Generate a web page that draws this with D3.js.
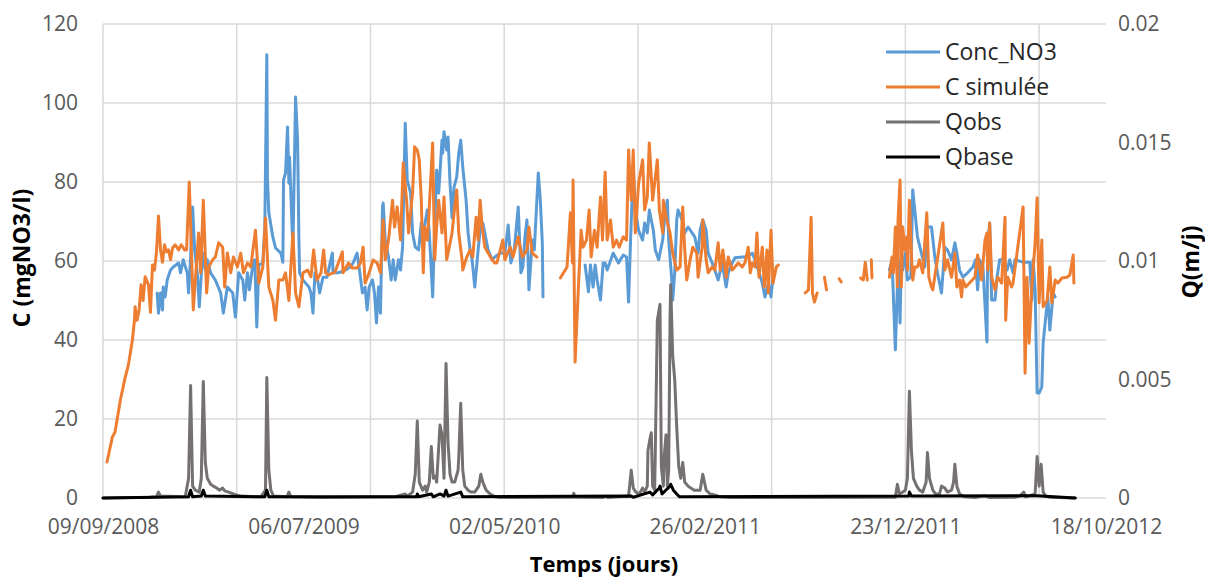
<!DOCTYPE html>
<html><head><meta charset="utf-8">
<script src="https://cdn.jsdelivr.net/npm/d3@7"></script>
<style>body{margin:0;background:#fff}svg{display:block}</style>
</head><body>
<svg id="chart" width="1205" height="579"></svg>
<script>
// ---- data (day offset from 09/09/2008, value) ----
const startDate = Date.UTC(2008, 8, 9);
const endDay = 1500;
const xTickDays = [0, 300, 600, 900, 1200, 1500];
const xGridDays = [0, 200, 400, 600, 800, 1000, 1200, 1400];
const cTicks = [0, 20, 40, 60, 80, 100, 120];
const qTicks = [0, 0.005, 0.01, 0.015, 0.02];
const seriesNames = ["Conc_NO3", "C simulée", "Qobs", "Qbase"];

const concNO3 = [[81,51.9],[83,46.8],[86,51.9],[89,47.6],[90,53.4],[93,50.9],[96,55.2],[101,57.7],[105,58.5],[113,59.5],[116,57],[120,60.3],[126,57],[128,51.9],[131,61],[134,73.7],[137,62.8],[141,57],[144,48.4],[149,62],[153,57.7],[156,60.3],[161,57],[168,55.2],[176,51.9],[180,46.8],[186,53.4],[194,51.9],[198,45.8],[203,57],[209,55.2],[212,50.1],[216,57],[219,52.7],[224,59],[227,60.3],[230,43.3],[233,59],[239,59.5],[242,68.6],[245,112.2],[246,80.5],[248,72.2],[254,66.1],[258,63.3],[266,62],[269,59.7],[270,80.5],[273,82.3],[276,93.9],[278,79.7],[279,86.3],[284,62.8],[288,101.5],[291,90.6],[293,65.3],[294,57],[299,55.2],[303,54.4],[308,53.4],[311,51.9],[314,46.8],[317,57],[321,55.2],[324,51.9],[329,55.9],[335,55.9],[343,62],[344,57],[352,57],[362,57.7],[370,58.5],[374,59.5],[380,62],[383,58.5],[388,51.9],[392,53.4],[395,47.6],[398,53.4],[403,55.2],[406,51.9],[409,44.3],[412,53.4],[415,46.8],[418,73.7],[419,74.7],[422,65.3],[427,61],[431,55.2],[434,60.3],[437,55.2],[442,60.3],[445,57.7],[448,63.5],[452,94.9],[455,80.5],[460,77.2],[463,67.1],[467,63.5],[472,62.8],[476,69.6],[479,67.1],[485,72.9],[488,67.1],[493,50.9],[496,68.6],[499,83],[502,77.2],[507,90.6],[508,87.3],[510,92.7],[514,88.1],[516,91.4],[519,79.7],[522,70.9],[525,78.7],[529,81.3],[532,87.3],[535,90.6],[538,83.8],[543,75.4],[546,67.1],[549,62.8],[552,60.3],[556,53.4],[561,62.8],[564,67.8],[568,69.6],[573,65.3],[576,62.8],[582,60.3],[586,61],[594,62],[601,62],[606,69.1],[610,59.5],[615,62.8],[621,73.7],[625,57],[628,58.5],[631,66.1],[634,70.4],[637,52.7],[642,65.3],[645,62.8],[651,82.3],[654,75.4],[657,64.6],[658,50.9],[690,null],
[721,59],[726,52.2],[729,59],[733,53.4],[736,59],[739,55.2],[744,50.1],[748,59.5],[751,59.5],[754,57.7],[763,62],[771,59.5],[778,61.5],[783,61],[786,49.6],[789,65.3],[793,83.8],[796,72.9],[801,67.8],[807,65.3],[810,69.6],[814,67.1],[817,72.9],[823,67.8],[826,62.8],[831,60.3],[837,65.3],[841,72.9],[844,75.4],[846,65.3],[851,54.4],[852,50.1],[855,57],[858,70.4],[860,72.9],[866,70.4],[870,67.1],[875,68.6],[881,67.1],[885,66.1],[890,62],[893,67.8],[897,70.4],[902,67.8],[905,62],[911,59.5],[915,57.7],[920,55.2],[926,59.5],[932,53.4],[935,57],[941,59.5],[945,60.8],[956,61],[963,61],[971,62],[975,60.3],[980,57.7],[986,54.4],[990,50.9],[995,54.4],[999,50.9],[1002,55.9],[1090,null],
[1176,57.7],[1180,60.3],[1185,37.5],[1188,53.4],[1189,60.3],[1192,44.3],[1194,62],[1196,57.7],[1200,62],[1203,55.2],[1208,55.9],[1211,78],[1214,72.9],[1218,66.1],[1224,62],[1229,58.5],[1233,68.6],[1239,68.6],[1244,61],[1248,57],[1254,51.9],[1259,63.5],[1263,62.8],[1269,60.3],[1274,64.6],[1277,62],[1281,57.7],[1286,55.9],[1293,57],[1301,58.5],[1305,60.3],[1308,52.7],[1311,60.3],[1316,58.5],[1322,39.5],[1323,63.3],[1326,69.6],[1329,50.1],[1334,50.1],[1337,55.9],[1341,60.3],[1346,60.3],[1352,57.7],[1356,60.3],[1361,57],[1364,60.3],[1376,59.7],[1386,59.7],[1389,50.1],[1391,60.3],[1394,52.7],[1397,26.6],[1400,26.6],[1404,28.1],[1406,39.2],[1412,49.4],[1413,50.9],[1416,42.5],[1421,51.9],[1424,50.9]];

const cSimulee = [[6,9.1],[14,15.4],[18,16.7],[26,24.8],[33,30.4],[38,33.7],[44,40],[47,45],[48,48.4],[51,45],[54,47.6],[57,54],[60,50],[63,56],[68,54],[71,47],[74,59],[77,57.7],[80,62.3],[83,71.4],[86,62.8],[89,59.7],[92,64.1],[95,62.3],[98,62.8],[101,60.3],[104,63.3],[108,64.1],[113,62.8],[117,64.1],[122,62.8],[125,62.8],[129,80],[135,47.6],[143,67.1],[146,57],[150,75.4],[155,51.9],[158,58.5],[164,60.3],[168,61],[173,64.6],[179,63.5],[182,53.4],[186,62],[191,57],[195,61],[201,58.5],[206,62],[210,57],[216,59.5],[221,58.5],[228,67.8],[233,54.4],[239,58.5],[243,70.9],[248,53.4],[254,50.1],[258,45],[263,55.2],[269,55.2],[273,57],[278,50],[284,67.1],[288,51.9],[293,48.4],[299,57],[306,57.7],[311,56],[315,62.8],[320,55.2],[326,57],[330,62.8],[333,57],[337,56.5],[347,57.2],[358,62.3],[359,57],[367,59.5],[373,58.2],[380,58.2],[385,59.5],[389,63.5],[392,54.4],[398,57],[404,60.3],[410,59.5],[415,57],[419,70.4],[422,60.3],[427,65.3],[433,75.4],[436,68.6],[440,73.7],[445,65.3],[449,84.8],[454,75.4],[457,67.1],[463,77.2],[466,88.9],[470,88.1],[473,85.6],[476,75.4],[479,57],[481,68.6],[485,65.3],[487,70.4],[493,89.9],[494,79.7],[496,60.3],[499,68.6],[502,75.4],[507,67.1],[510,76.2],[514,60.3],[517,62.8],[522,67.1],[526,73.7],[529,78],[532,67.1],[537,60.3],[538,57.7],[544,61],[549,62.8],[553,61],[558,71.1],[561,65.3],[564,75.4],[567,68.6],[571,63.5],[576,62],[582,60.3],[586,59.5],[589,59.5],[598,65.3],[601,60.3],[609,63.5],[613,61],[621,66.1],[627,61],[634,62.8],[637,68.6],[642,62],[649,61],[665,null],
[684,55.7],[694,58.5],[699,72.2],[702,59.5],[703,80.5],[706,34.4],[711,53.4],[715,67.8],[718,63.5],[723,65.3],[727,72.9],[730,61],[735,67.8],[739,63.5],[744,76.2],[747,65.3],[751,82.5],[754,65.3],[759,70.4],[763,63.5],[768,65.3],[772,63.5],[778,66.1],[783,65.3],[786,88.1],[790,75.4],[793,88.1],[796,67.1],[801,79.7],[807,85.6],[810,72.9],[814,76.2],[817,89.9],[822,75.4],[825,79.7],[829,85.6],[832,72.9],[837,67.1],[838,75.4],[843,70.4],[848,67.1],[852,62],[858,57.7],[863,58.5],[867,73.7],[870,62.8],[873,55.2],[878,60.3],[882,63.5],[888,62],[890,55.9],[896,63.5],[897,70.4],[902,60.3],[905,57],[911,58.5],[915,57.7],[920,64.6],[923,57.7],[927,62.8],[932,55.9],[935,61],[941,57.7],[945,58.5],[950,59.5],[956,58.5],[960,59.5],[965,63.5],[968,57],[971,59.5],[975,58.5],[978,67.1],[981,55.9],[986,63.5],[989,53.4],[993,62.8],[995,51.9],[999,67.8],[1002,54.4],[1007,58.5],[1010,59],[1030,null],
[1050,51.9],[1055,52.7],[1059,71.1],[1061,51.9],[1064,49.6],[1068,51.9],[1074,null],
[1079,55.9],[1082,52.7],[1090,null],
[1101,55.5],[1104,54.7],[1120,null],
[1133,55.7],[1137,55.2],[1140,59.7],[1143,55.2],[1146,null],[1149,60.3],[1150,55.7],[1160,null],
[1176,55.9],[1180,61],[1182,57],[1185,68.6],[1188,53.4],[1189,70.4],[1192,80.5],[1194,53.4],[1196,68.6],[1199,62.8],[1202,66.1],[1203,57.7],[1206,75.4],[1209,61.5],[1211,55.2],[1214,58.5],[1218,58.5],[1221,60.3],[1226,57],[1232,72.2],[1235,55.9],[1239,53.4],[1241,52.7],[1256,69.6],[1259,57.7],[1263,60.3],[1269,55.9],[1274,62],[1277,53.4],[1281,55.2],[1284,50.9],[1286,55.2],[1290,53.4],[1304,55.9],[1308,61.5],[1314,55.2],[1319,65.3],[1322,67.1],[1323,57.7],[1326,69.6],[1329,55.9],[1334,52.7],[1338,55.9],[1344,54.4],[1349,71.1],[1350,45],[1353,55.9],[1359,53.4],[1361,54.4],[1376,73.7],[1379,31.6],[1382,55.9],[1385,39.2],[1389,53.4],[1394,64.6],[1397,76],[1400,49.4],[1404,65.3],[1406,48.4],[1412,50],[1416,58.5],[1419,49.4],[1424,55.2],[1428,54.4],[1434,55.7],[1442,55.9],[1446,56.5],[1451,61.5],[1452,54.4]];

const qObs = [[0,0],[70,0.00003],[80,0.00005],[83,0.00025],[86,0.00008],[123,0.00005],[128,0.00083],[131,0.00475],[134,0.0005],[138,0.00033],[144,0.00025],[147,0.00083],[150,0.00492],[153,0.0015],[156,0.00083],[161,0.00058],[165,0.0005],[170,0.00042],[174,0.00033],[179,0.00042],[182,0.0003],[188,0.00025],[195,0.00017],[206,0.00008],[236,0.00005],[243,0.00033],[245,0.00508],[248,0.00117],[251,0.00033],[255,0.00008],[275,0.00005],[278,0.00025],[281,0.00005],[326,0.00002],[437,0.00005],[452,0.00017],[455,0.00008],[463,0.00025],[467,0.001],[470,0.00325],[473,0.00067],[478,0.00033],[482,0.0005],[484,0.00025],[488,0.00067],[491,0.00217],[494,0.00083],[497,0.00092],[499,0.00067],[504,0.00308],[507,0.00267],[510,0.00083],[513,0.00567],[516,0.00233],[519,0.001],[522,0.00067],[526,0.00067],[531,0.00117],[532,0.00167],[535,0.004],[538,0.00117],[541,0.0005],[546,0.00033],[550,0.00025],[556,0.00025],[562,0.0005],[565,0.001],[568,0.00067],[573,0.00033],[579,0.00017],[586,0.00005],[594,0.00002],[703,0.00003],[704,0.0002],[706,0.00003],[748,0.00002],[752,0.00008],[755,0.00002],[786,0.00008],[790,0.00117],[793,0.00042],[797,0.00025],[802,0.00017],[807,0.00042],[810,0.00025],[814,0.0005],[815,0.002],[818,0.0025],[820,0.00275],[822,0.0005],[825,0.00033],[826,0.002],[829,0.0075],[832,0.008],[833,0.00817],[835,0.00133],[838,0.0005],[839,0.00167],[841,0.00233],[842,0.00267],[844,0.0005],[846,0.00117],[848,0.0075],[849,0.009],[852,0.006],[855,0.005],[858,0.003],[861,0.00133],[864,0.00083],[867,0.0015],[870,0.00067],[875,0.0005],[879,0.00042],[884,0.00033],[893,0.00033],[897,0.001],[902,0.00033],[908,0.00017],[915,0.00013],[923,0.00005],[938,0.00002],[1061,0.00002],[1185,0.00003],[1188,0.00058],[1191,0.00017],[1196,0.00025],[1200,0.00033],[1203,0.00083],[1206,0.0045],[1209,0.002],[1212,0.00083],[1217,0.0005],[1221,0.00033],[1226,0.00025],[1231,0.00067],[1233,0.00192],[1236,0.00083],[1241,0.00033],[1245,0.00017],[1251,0.00017],[1254,0.0005],[1259,0.00042],[1263,0.00025],[1269,0.00033],[1272,0.00067],[1274,0.00142],[1277,0.0005],[1281,0.00017],[1289,0.00005],[1304,0.00002],[1316,0.00008],[1320,0.00008],[1326,0.00002],[1364,0.00003],[1371,0.00008],[1377,0.00025],[1380,0.00005],[1394,0.00017],[1397,0.00175],[1400,0.0005],[1403,0.00142],[1406,0.00025],[1410,0.00008],[1416,0.00003],[1454,0]];

const qBase = [[0,0],[128,0.00005],[131,0.00033],[134,0.00005],[147,0.00008],[150,0.00033],[153,0.00008],[242,0.00005],[245,0.00033],[248,0.00005],[469,0.00005],[470,0.00017],[472,0.00005],[491,0.00017],[494,0.00005],[504,0.00017],[507,0.00013],[510,0.00008],[513,0.00033],[516,0.00008],[535,0.00025],[538,0.00005],[790,0.00008],[793,0.00003],[818,0.00025],[822,0.00013],[832,0.00042],[833,0.0005],[836,0.00017],[848,0.0005],[849,0.00058],[853,0.00033],[858,0.00017],[862,0.00005],[1205,0.00008],[1206,0.00025],[1209,0.00008],[1233,0.00008],[1397,0.0001],[1454,0]];

// ---- layout ----
const W = 1205, H = 579;
const L = 103, R = 1106, T = 24, B = 498;
const svg = d3.select("#chart");
const toDate = d => new Date(startDate + d * 86400000);

const x = d3.scaleUtc().domain([toDate(0), toDate(endDay)]).range([L, R]);
const yC = d3.scaleLinear().domain([0, 120]).range([B, T]);
const yQ = d3.scaleLinear().domain([0, 0.02]).range([B, T]);

const gridColor = "#d9d9d9";
const tickColor = "#595959";
const font = "'Open Sans', 'DejaVu Sans', sans-serif";

// gridlines
const grid = svg.append("g");
grid.selectAll("line.h").data(cTicks).join("line")
  .attr("x1", L).attr("x2", R).attr("y1", d => yC(d)).attr("y2", d => yC(d))
  .attr("stroke", gridColor).attr("stroke-width", 1.5);
grid.selectAll("line.v").data(xGridDays).join("line")
  .attr("x1", d => x(toDate(d))).attr("x2", d => x(toDate(d))).attr("y1", T).attr("y2", B)
  .attr("stroke", gridColor).attr("stroke-width", 1.5);

// axes
const fmt = d3.utcFormat("%d/%m/%Y");
const xAxis = d3.axisBottom(x).tickValues(xTickDays.map(toDate)).tickFormat(fmt).tickSize(0).tickPadding(21);
const gx = svg.append("g").attr("transform", `translate(0,${B})`).call(xAxis);
const yAxisL = d3.axisLeft(yC).tickValues(cTicks).tickSize(0).tickPadding(25);
const gyl = svg.append("g").attr("transform", `translate(${L},0)`).call(yAxisL);
const yAxisR = d3.axisRight(yQ).tickValues(qTicks).tickFormat(d => d === 0 ? "0" : String(+d.toFixed(3))).tickSize(0).tickPadding(12);
const gyr = svg.append("g").attr("transform", `translate(${R},0)`).call(yAxisR);
[gx, gyl, gyr].forEach(g => {
  g.select(".domain").remove();
  g.selectAll("text").attr("fill", tickColor).style("font-family", font).style("font-size", "21px");
});

// series
const colors = {"Conc_NO3": "#5b9bd5", "C simulée": "#ed7d31", "Qobs": "#767171", "Qbase": "#000000"};
const lineC = d3.line().defined(d => d[1] != null).x(d => x(toDate(d[0]))).y(d => yC(d[1]));
const lineQ = d3.line().defined(d => d[1] != null).x(d => x(toDate(d[0]))).y(d => yQ(d[1]));
const plot = svg.append("g").attr("fill", "none").attr("stroke-linejoin", "round").attr("stroke-linecap", "round");
plot.append("path").datum(concNO3).attr("d", lineC).attr("stroke", colors["Conc_NO3"]).attr("stroke-width", 3);
plot.append("path").datum(cSimulee).attr("d", lineC).attr("stroke", colors["C simulée"]).attr("stroke-width", 3);
plot.append("path").datum(qObs).attr("d", lineQ).attr("stroke", colors["Qobs"]).attr("stroke-width", 3);
plot.append("path").datum(qBase).attr("d", lineQ).attr("stroke", colors["Qbase"]).attr("stroke-width", 3);

// legend
const lg = svg.append("g");
seriesNames.forEach((name, i) => {
  const yy = 52 + i * 35;
  lg.append("line").attr("x1", 886).attr("x2", 940).attr("y1", yy).attr("y2", yy)
    .attr("stroke", colors[name]).attr("stroke-width", 3);
  lg.append("text").attr("x", 945).attr("y", yy).attr("dy", "0.35em").text(name)
    .style("font-family", font).style("font-size", "23px").attr("fill", "#262626");
});

// axis titles
svg.append("text").attr("transform", `translate(30,258) rotate(-90)`).attr("text-anchor", "middle")
  .text("C (mgNO3/l)").style("font-family", font).style("font-size", "23px").style("font-weight", "bold").attr("fill", "#000");
svg.append("text").attr("transform", `translate(1199,262) rotate(-90)`).attr("text-anchor", "middle")
  .text("Q(m/j)").style("font-family", font).style("font-size", "23px").style("font-weight", "bold").attr("fill", "#000");
svg.append("text").attr("x", 604).attr("y", 572).attr("text-anchor", "middle")
  .text("Temps (jours)").style("font-family", font).style("font-size", "22px").style("font-weight", "bold").attr("fill", "#000");
</script>
</body></html>
